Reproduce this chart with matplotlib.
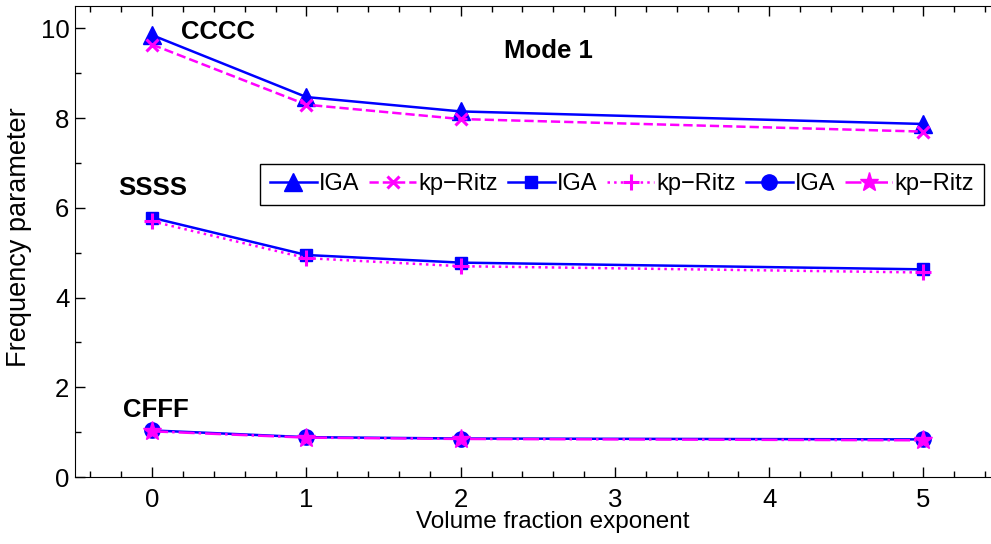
import matplotlib
matplotlib.use('Agg')
import matplotlib.pyplot as plt

plt.rcParams['font.family'] = ['Liberation Sans', 'DejaVu Sans']

x = [0, 1, 2, 5]
cccc_iga = [9.85, 8.47, 8.15, 7.87]
cccc_ritz = [9.64, 8.30, 7.98, 7.70]
ssss_iga = [5.78, 4.95, 4.78, 4.63]
ssss_ritz = [5.70, 4.88, 4.70, 4.56]
cfff_iga = [1.04, 0.89, 0.86, 0.84]
cfff_ritz = [1.02, 0.88, 0.85, 0.82]

fig = plt.figure(figsize=(9.91, 5.44), dpi=100)
ax = fig.add_axes([0.0757, 0.123, 0.934, 0.866])

blue = '#0000ff'
mag = '#ff00ff'
ax.plot(x, cccc_iga, '-', color=blue, lw=1.8, marker='^', ms=13, label='IGA')
ax.plot(x, cccc_ritz, '--', color=mag, lw=1.8, marker='x', ms=8, mew=2.2, label='kp\u2212Ritz')
ax.plot(x, ssss_iga, '-', color=blue, lw=1.8, marker='s', ms=9, label='IGA')
ax.plot(x, ssss_ritz, ':', color=mag, lw=1.8, marker='+', ms=11, mew=2.2, label='kp\u2212Ritz')
ax.plot(x, cfff_iga, '-', color=blue, lw=1.8, marker='o', ms=11, label='IGA')
ax.plot(x, cfff_ritz, '-.', color=mag, lw=1.8, marker='*', ms=14, label='kp\u2212Ritz')

ax.text(0.19, 9.92, 'CCCC', fontsize=18.5, fontweight='bold', va='center')
ax.text(-0.22, 6.45, 'SSSS', fontsize=18.5, fontweight='bold', va='center')
ax.text(-0.19, 1.5, 'CFFF', fontsize=18.5, fontweight='bold', va='center')
ax.text(2.28, 9.5, 'Mode 1', fontsize=18.5, fontweight='bold', va='center')

ax.set_xlim(-0.5, 5.5)
ax.set_ylim(0, 10.5)
ax.set_xticks(range(6))
ax.set_yticks([0, 2, 4, 6, 8, 10])
ax.set_xticks([i * 0.2 - 0.4 for i in range(30)], minor=True)
ax.set_yticks(range(11), minor=True)
ax.tick_params(which='both', direction='in', top=True, right=True, labelsize=18.5)
ax.tick_params(which='major', length=7, width=1)
ax.tick_params(which='minor', length=4, width=1)
ax.tick_params(axis='x', which='major', pad=8)
ax.tick_params(axis='y', which='major', pad=4)
ax.set_xlabel('Volume fraction exponent', fontsize=17.5)
ax.set_ylabel('Frequency parameter', fontsize=19.5)
ax.xaxis.set_label_coords(0.516, -0.072)
ax.yaxis.set_label_coords(-0.047, 0.51)

ax.legend(ncol=6, loc='lower left', bbox_to_anchor=(0.2, 0.578), fontsize=17,
          frameon=True, fancybox=False, edgecolor='black', framealpha=1,
          handlelength=2.0, handletextpad=0.1, columnspacing=0.4,
          borderpad=0.4, borderaxespad=0)

fig.savefig('out.png', dpi=100)
